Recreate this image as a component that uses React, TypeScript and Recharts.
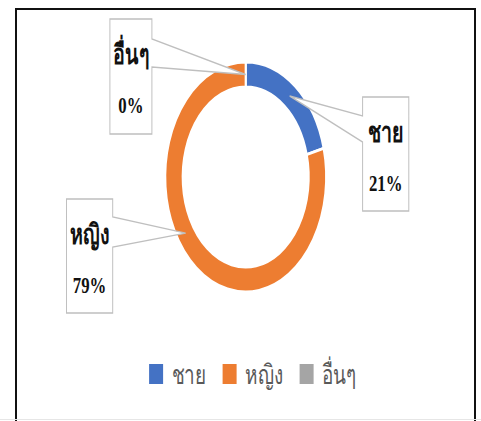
import { Cell, Legend, Pie, PieChart } from 'recharts';

const categories = ['ชาย', 'หญิง', 'อื่นๆ'];
const shares = [21, 79, 0];
const colors = ['#4472C4', '#ED7D31', '#A5A5A5'];

// the reference is squeezed sideways, so draw wide and squash the whole svg
const SQUASH = 0.7;
const W = 687;
const H = 421;
const CX = 351;
const CY = 177;
const INNER = 90;
const OUTER = 115;

const data = categories.map((name, i) => ({ name, value: shares[i] }));

// callout boxes, relative to the pie centre (unsquashed px)
const callouts = [
  { dx: 167, dy: -80, w: 66, h: 114, side: 'left', w1: 19, w2: 45, shift: 0 },
  { dx: -256, dy: 22, w: 66, h: 114, side: 'right', w1: 18, w2: 48, shift: -19 },
  { dx: -194, dy: -158, w: 60, h: 115, side: 'right', w1: 20, w2: 48, shift: 0 },
];

const RAD = Math.PI / 180;
const SERIF = "'Liberation Serif', 'Times New Roman', serif";

function Callout(props: any) {
  const { cx, cy, midAngle, innerRadius, outerRadius, index, name, percent } = props;
  const c = callouts[index];
  if (!c) return null;
  const r = (innerRadius + outerRadius) / 2;
  const a = (midAngle + c.shift) * RAD;
  const ax = cx + r * Math.cos(a);
  const ay = cy - r * Math.sin(a);
  const x = cx + c.dx;
  const y = cy + c.dy;
  const d =
    c.side === 'right'
      ? `M${x},${y}H${x + c.w}V${y + c.w1}L${ax},${ay}L${x + c.w},${y + c.w2}V${y + c.h}H${x}Z`
      : `M${x},${y}H${x + c.w}V${y + c.h}H${x}V${y + c.w2}L${ax},${ay}L${x},${y + c.w1}Z`;
  const tx = x + c.w / 2;
  return (
    <g>
      <path d={d} fill="#fff" stroke="#bfbfbf" strokeWidth={1.4} />
      <text x={tx} y={y + 45} textAnchor="middle" fontFamily={SERIF} fontWeight="bold" fontSize={28} fill="#111">
        {name}
      </text>
      <text x={tx} y={y + 94} textAnchor="middle" fontFamily={SERIF} fontWeight="bold" fontSize={24} fill="#111">
        {Math.round(percent * 100)}%
      </text>
    </g>
  );
}

function LegendRow() {
  return (
    <div style={{ display: 'flex', alignItems: 'center', gap: 24 }}>
      {categories.map((c, i) => (
        <div key={c} style={{ display: 'flex', alignItems: 'center', gap: 12 }}>
          <span style={{ width: 20, height: 20, background: colors[i], display: 'inline-block' }} />
          <span style={{ color: '#595959', fontSize: 27, fontFamily: "'Noto Sans', sans-serif", lineHeight: 1 }}>{c}</span>
        </div>
      ))}
    </div>
  );
}

export default function App() {
  return (
    <div style={{ position: 'absolute', left: 0, top: 0, width: 481, height: 421, background: '#fff', overflow: 'hidden' }}>
      <div
        style={{
          position: 'absolute',
          left: 15,
          top: 8,
          width: 457,
          height: 420,
          borderTop: '2px solid #111',
          borderLeft: '2px solid #111',
          borderRight: '2px solid #111',
        }}
      />
      <div style={{ position: 'absolute', left: 0, top: 419, width: 481, height: 1, background: '#e6e6e6' }} />
      <div style={{ position: 'absolute', left: 0, top: 0, width: W, height: H, transform: `scaleX(${SQUASH})`, transformOrigin: '0 0' }}>
        <PieChart width={W} height={H} margin={{ top: 0, right: 0, bottom: 0, left: 0 }}>
          <Pie
            data={data}
            dataKey="value"
            nameKey="name"
            cx={CX}
            cy={CY}
            innerRadius={INNER}
            outerRadius={OUTER}
            startAngle={90}
            endAngle={-270}
            stroke="#fff"
            strokeWidth={3}
            label={Callout}
            labelLine={false}
            isAnimationActive={false}
          >
            {data.map((d, i) => (
              <Cell key={d.name} fill={colors[i]} />
            ))}
          </Pie>
          <Legend content={<LegendRow />} wrapperStyle={{ left: 213, top: 360, width: 440 }} />
        </PieChart>
      </div>
    </div>
  );
}
